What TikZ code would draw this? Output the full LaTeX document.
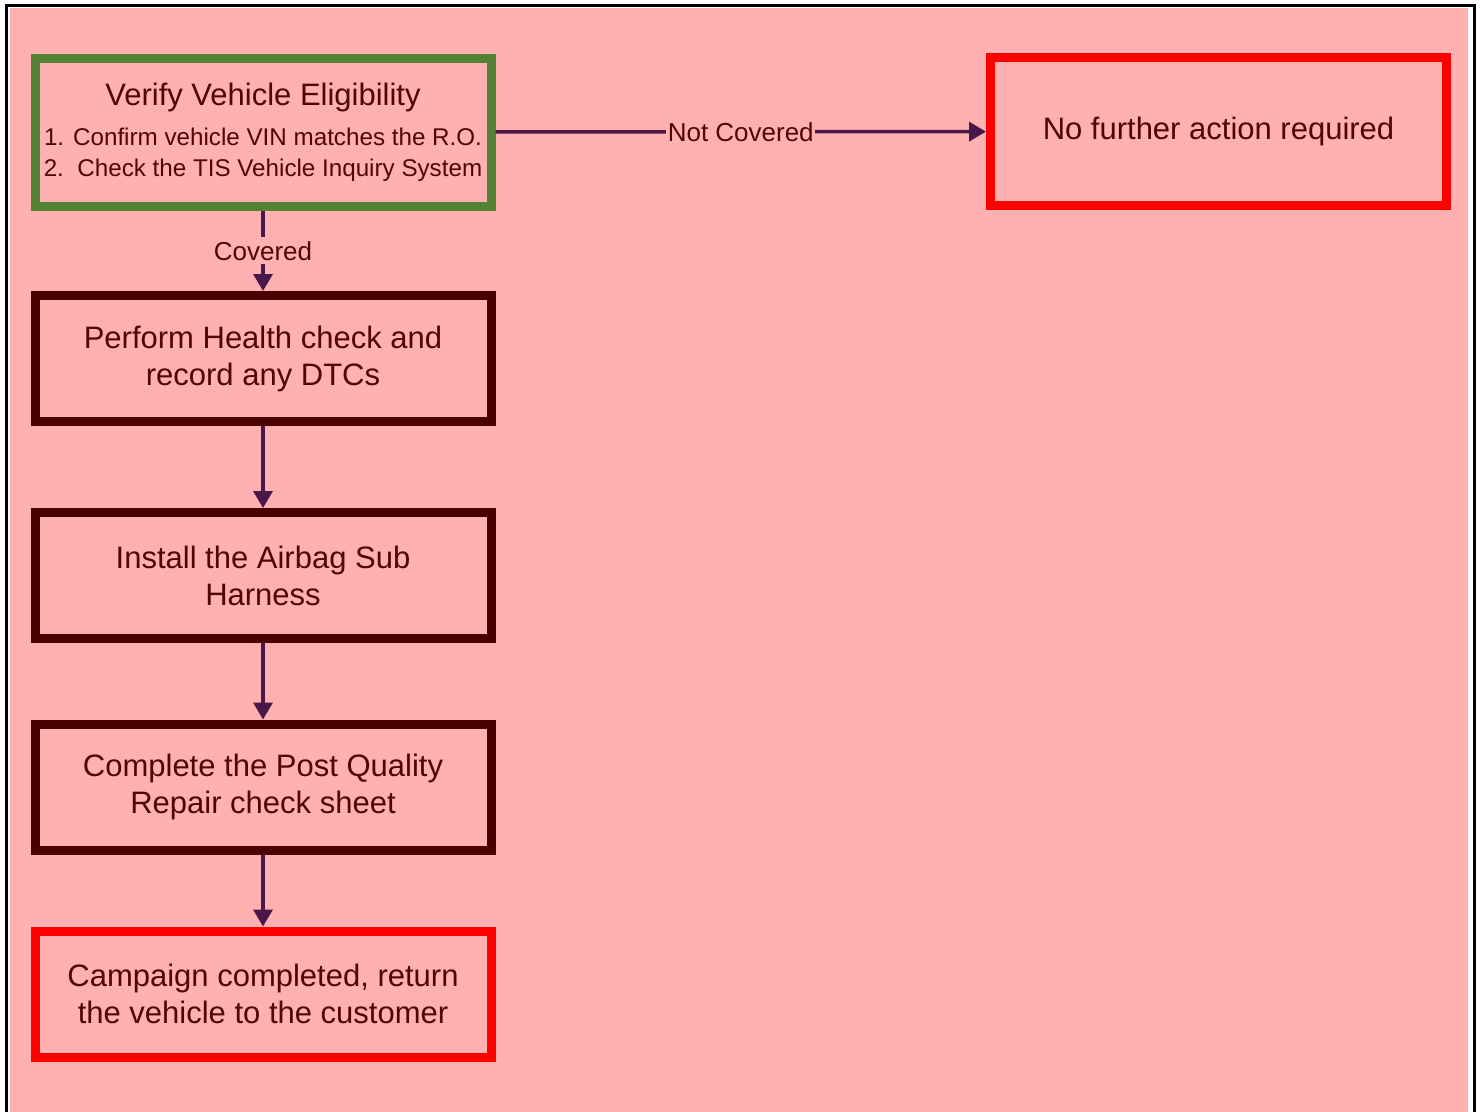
\documentclass[tikz,border=0pt]{standalone}
\usepackage{fontspec}
\setmainfont{Liberation Sans}
\usepackage{xcolor}
\usetikzlibrary{arrows.meta,positioning}

\definecolor{bgpink}{RGB}{255,176,176}
\definecolor{okgreen}{RGB}{84,130,53}
\definecolor{stepred}{RGB}{74,0,0}
\definecolor{txtred}{RGB}{80,6,6}
\definecolor{linkpurple}{RGB}{74,24,72}

\begin{document}
\begin{tikzpicture}[x=1pt, y=-1pt,
        box/.style={rectangle, draw=stepred, line width=9pt, minimum width=456pt, minimum height=126pt, inner sep=0pt, align=center, text=txtred, font=\fontsize{31}{37}\selectfont},
        startbox/.style={box, draw=okgreen, minimum height=148pt, font=\fontsize{24.2}{31}\selectfont},
        endbox/.style={box, draw=red},
        arrow/.style={-{Triangle[length=17pt,width=19pt]}, line width=3.5pt, draw=linkpurple},
        edgelabel/.style={fill=bgpink, text=txtred, font=\fontsize{26}{30}\selectfont, inner xsep=1.5pt, inner ysep=4pt}
    ]
    \useasboundingbox (0,0) rectangle (1480,1111);

    % Page frame and background
    \fill[white] (0,0) rectangle (1480,1111);
    \draw[black, line width=2.5pt] (6.5,5.5) rectangle (1474.5,1130);
    \fill[bgpink] (9.5,8) rectangle (1468,1112);

    % Eligibility check
    \node[startbox] (verify) at (263,132) {{\fontsize{31}{37}\selectfont Verify Vehicle Eligibility}\\[9pt]
        1. Confirm vehicle VIN matches the R.O.\\
        2.\ \ Check the TIS Vehicle Inquiry System};

    % Not covered
    \node[endbox, minimum height=148pt] (nofurther) at (1218.5,131.5) {No further action required};

    % Repair steps
    \node[box] (health) at (263,358.5) {Perform Health check and\\record any DTCs};
    \node[box] (airbag) at (263,575.5) {Install the Airbag Sub\\Harness};
    \node[box] (postcheck) at (263,787) {Complete the Post Quality\\Repair check sheet};

    % Campaign done
    \node[endbox] (done) at (263,994) {Campaign completed, return\\the vehicle to the customer};

    % Arrows
    \draw[arrow] (verify) -- node[edgelabel] {Not Covered} (nofurther);
    \draw[arrow] (verify) -- node[edgelabel] {Covered} (health);
    \draw[arrow] (health) -- (airbag);
    \draw[arrow] (airbag) -- (postcheck);
    \draw[arrow] (postcheck) -- (done);

\end{tikzpicture}
\end{document}
